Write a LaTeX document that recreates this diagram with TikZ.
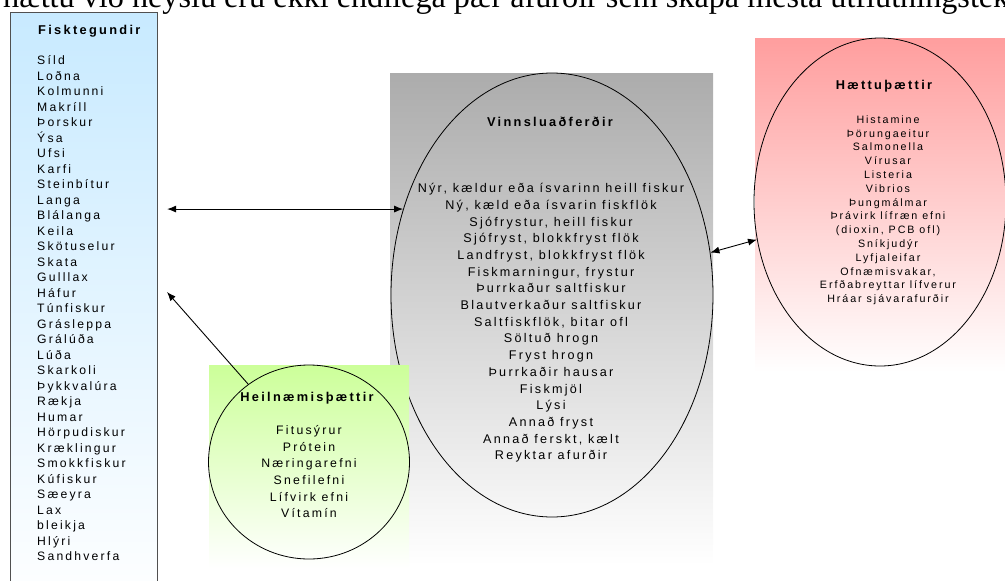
\documentclass[tikz,border=0pt]{standalone}
\usepackage{fontspec}
\setmainfont{Liberation Sans}
\newfontfamily\dia[LetterSpace=18]{Liberation Sans}
\newfontfamily\serifbody{Liberation Serif}
\usetikzlibrary{shapes.geometric,arrows.meta}
\definecolor{blueTop}{RGB}{200,234,255}
\definecolor{grayTop}{RGB}{172,172,172}
\definecolor{redTop}{RGB}{255,158,158}
\definecolor{greenTop}{RGB}{204,255,153}
\definecolor{boxEdge}{RGB}{80,80,80}
\tikzset{
  oval/.style={ellipse, draw=black, line width=0.8pt, inner sep=0pt},
  ttl/.style={font=\dia\bfseries\fontsize{12.8}{14}\selectfont, inner sep=0pt, anchor=base},
  lst/.style={inner sep=0pt, anchor=north, align=center},
  link/.style={line width=0.9pt, {Latex[length=9pt,width=7pt]}-{Latex[length=9pt,width=7pt]}},
  onelink/.style={line width=0.9pt, -{Latex[length=9pt,width=7pt]}}
}
\begin{document}
\begin{tikzpicture}[x=1pt,y=-1pt]
\useasboundingbox (0,0) rectangle (1005,581);
\clip (0,0) rectangle (1005,581);
% top running text (cut off)
\node[anchor=base west, inner sep=0pt, font=\serifbody\fontsize{32.2}{33}\selectfont] (intro) at (3,7)
  {hættu við neyslu eru ekki endilega þær afurðir sem skapa mesta útflutningstekjur};
% left box
\node[draw=boxEdge, line width=1.1pt, rectangle, anchor=north west, minimum width=147pt, minimum height=600pt,
      top color=blueTop, bottom color=white, inner sep=0pt] (fisk) at (10,12) {};
\node[ttl, anchor=base west] (fiskttl) at (38,34.5) {Fisktegundir};
\node[lst, anchor=north west, align=left, font=\dia\fontsize{12.2}{15.5}\selectfont] (fisklist) at (37,53.6)
  {\strut Síld\\Loðna\\Kolmunni\\Makríll\\Þorskur\\Ýsa\\Ufsi\\Karfi\\Steinbítur\\Langa\\Blálanga\\Keila\\Skötuselur\\Skata\\Gulllax\\Háfur\\Túnfiskur\\Grásleppa\\Grálúða\\Lúða\\Skarkoli\\Þykkvalúra\\Rækja\\Humar\\Hörpudiskur\\Kræklingur\\Smokkfiskur\\Kúfiskur\\Sæeyra\\Lax\\bleikja\\Hlýri\\Sandhverfa};
% Vinnsluadferdir
\shade[top color=grayTop, bottom color=white] (390,73) rectangle (713,565);
\node[oval, minimum width=322pt, minimum height=444pt] (vinnslu) at (552,295) {};
\node[ttl] (vinnslattl) at (550,126.5) {Vinnsluaðferðir};
\node[lst, font=\dia\fontsize{12.6}{16.7}\selectfont] (vinnslulist) at (551,180.8)
  {\strut Nýr, kældur eða ísvarinn heill fiskur\\Ný, kæld eða ísvarin fiskflök\\Sjófrystur, heill fiskur\\Sjófryst, blokkfryst flök\\Landfryst, blokkfryst flök\\Fiskmarningur, frystur\\Þurrkaður saltfiskur\\Blautverkaður saltfiskur\\Saltfiskflök, bitar ofl\\Söltuð hrogn\\Fryst hrogn\\Þurrkaðir hausar\\Fiskmjöl\\Lýsi\\Annað fryst\\Annað ferskt, kælt\\Reyktar afurðir};
% Haettuthaettir
\shade[top color=redTop, bottom color=white] (755,38) rectangle (1010,372);
\node[oval, minimum width=252pt, minimum height=328pt] (haettu) at (880,202) {};
\node[ttl] (haettuttl) at (884,89.5) {Hættuþættir};
\node[lst, font=\dia\fontsize{10.7}{13.8}\selectfont] (haettulist) at (888,113.5)
  {\strut Histamine\\Þörungaeitur\\Salmonella\\Vírusar\\Listeria\\Vibrios\\Þungmálmar\\Þrávirk lífræn efni\\(dioxin, PCB ofl)\\Sníkjudýr\\Lyfjaleifar\\Ofnæmisvakar,\\Erfðabreyttar lífverur\\Hráar sjávarafurðir};
% Heilnaemisthaettir
\shade[top color=greenTop, bottom color=white] (209,365) rectangle (409,568);
\node[oval, minimum width=201pt, minimum height=194pt] (heil) at (309,462) {};
\node[ttl] (heilttl) at (307,401.5) {Heilnæmisþættir};
\node[lst, font=\dia\fontsize{12.3}{16.6}\selectfont] (heillist) at (309,422.8)
  {\strut Fitusýrur\\Prótein\\Næringarefni\\Snefilefni\\Lífvirk efni\\Vítamín};
% connectors
\draw[link, shorten <=9pt] (fisk.east |- vinnslu.150) -- (vinnslu.150);
\coordinate (heiltip) at (167,292);
\draw[onelink] (heil.128) -- (heiltip);
\draw[link] (vinnslu.15) -- (haettu.197);
\end{tikzpicture}
\end{document}
